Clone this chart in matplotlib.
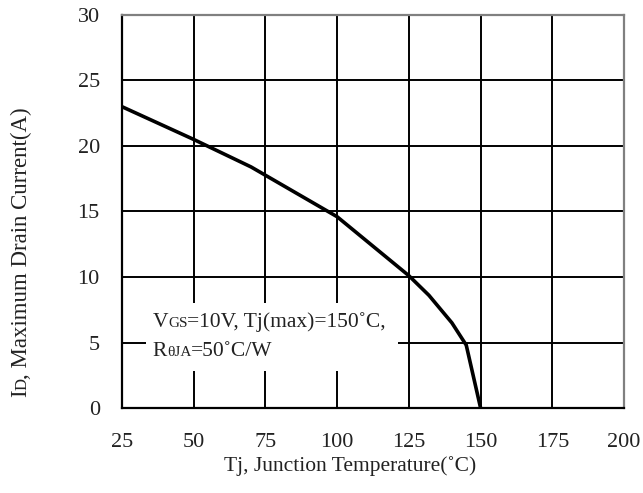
import matplotlib.pyplot as plt
from matplotlib.patches import Rectangle
from matplotlib.offsetbox import TextArea, HPacker, VPacker, AnchoredOffsetbox

# derating curve: max drain current vs junction temperature
tj = [25, 50, 70, 100, 125, 132, 140, 145, 150]
id_max = [23.0, 20.5, 18.4, 14.6, 10.1, 8.6, 6.5, 4.8, 0.0]

x_ticks = [25, 50, 75, 100, 125, 150, 175, 200]
y_ticks = [0, 5, 10, 15, 20, 25, 30]

plt.rcParams['font.family'] = 'Liberation Serif'
txt_color = '#222222'

fig = plt.figure(figsize=(6.43, 4.93), dpi=100)
ax = fig.add_axes([0.1897, 0.1724, 0.7808, 0.7972])

ax.plot(tj, id_max, color='black', lw=2.6, solid_joinstyle='miter', zorder=3)

ax.set_xlim(25, 200)
ax.set_ylim(0, 30)
ax.set_xticks(x_ticks)
ax.set_yticks(y_ticks)
ax.grid(True, color='black', lw=1.4)
ax.tick_params(length=0, labelsize=16, colors=txt_color)
ax.tick_params(axis='x', pad=18)
ax.tick_params(axis='y', pad=16)
for s in ['left', 'bottom']:
    ax.spines[s].set_linewidth(1.6)
    ax.spines[s].set_color('black')
for s in ['top', 'right']:
    ax.spines[s].set_linewidth(1.6)
    ax.spines[s].set_color('#808080')

fig.text(350 / 643, 1 - 466 / 493, 'Tj, Junction Temperature(\u02daC)', fontsize=15.5,
         color=txt_color, ha='center', va='center')

# white patch behind the condition note
ax.add_patch(Rectangle((33.3, 2.8), 87.9, 5.25, facecolor='white', edgecolor='none', zorder=2.5))

# condition note with small-caps style subscripts
big = dict(fontsize=15.5, color=txt_color)
small = dict(fontsize=11, color=txt_color)
line1 = HPacker(children=[TextArea('V', textprops=big), TextArea('GS', textprops=small),
                          TextArea('=10V, Tj(max)=150\u02daC,', textprops=big)],
                align='baseline', pad=0, sep=0)
line2 = HPacker(children=[TextArea('R', textprops=big), TextArea('\u03b8JA', textprops=small),
                          TextArea('=50\u02daC/W', textprops=big)],
                align='baseline', pad=0, sep=0)
note = VPacker(children=[line1, line2], align='left', pad=0, sep=7)
box = AnchoredOffsetbox(loc='lower left', child=note, pad=0, borderpad=0,
                        bbox_to_anchor=(35.6, 3.6), bbox_transform=ax.transData, frameon=False)
box.set_zorder(4)
ax.add_artist(box)

# y label: "I" with a small "D", rotated
fig.canvas.draw()
r = fig.canvas.get_renderer()
ylab_x = 21 / 643
ylab_y = 1 - 397 / 493
t1 = fig.text(ylab_x, ylab_y, 'I', rotation=90, fontsize=16.5, color=txt_color,
              ha='center', va='bottom')
h1 = t1.get_window_extent(r).height
t2 = fig.text(ylab_x + 1.5 / 643, ylab_y + (h1 - 1) / 493, 'D', rotation=90, fontsize=12,
              color=txt_color, ha='center', va='bottom')
h2 = t2.get_window_extent(r).height
fig.text(ylab_x, ylab_y + (h1 + h2 - 2) / 493, ', Maximum Drain Current(A)', rotation=90,
         fontsize=16.5, color=txt_color, ha='center', va='bottom')

plt.savefig('out.png', dpi=100)
